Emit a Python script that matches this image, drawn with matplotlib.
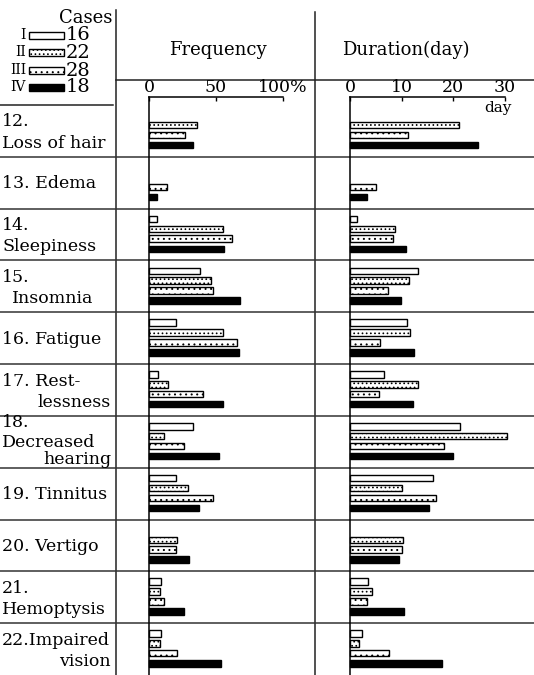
import numpy as np
import matplotlib
matplotlib.use('Agg')
import matplotlib.pyplot as plt
from matplotlib.patches import Rectangle

plt.rcParams['font.family'] = ['DejaVu Serif']
plt.rcParams['hatch.linewidth'] = 0.7

# ============================================================
# Data: symptom rows, 4 case groups (nan = no bar)
# ============================================================
symptoms = [
    ["12.", "Loss of hair"],
    ["13. Edema"],
    ["14.", "Sleepiness"],
    ["15.", "Insomnia"],
    ["16. Fatigue"],
    ["17. Rest-", "lessness"],
    ["18.", "Decreased", "hearing"],
    ["19. Tinnitus"],
    ["20. Vertigo"],
    ["21.", "Hemoptysis"],
    ["22.Impaired", "vision"],
]
groups = ["I", "II", "III", "IV"]
n_cases = [16, 22, 28, 18]

nan = np.nan
# frequency (%) per group
freq_I   = [nan, nan,  6, 38, 20,  7, 33, 20, nan,  9,  9]
freq_II  = [36, nan,  55, 46, 55, 14, 11, 29, 21,  8,  8]
freq_III = [27, 13.5, 62, 48, 66, 40, 26, 48, 20.5, 11, 21]
freq_IV  = [33,  6,   56, 68, 67.5, 55, 52, 37, 30, 26, 54]

# duration (day) per group
dur_I   = [nan, nan, 1.4, 13.2, 11.0, 6.6, 21.3, 16.0, nan, 3.4, 2.3]
dur_II  = [21.0, nan, 8.7, 11.5, 11.7, 13.1, 30.3, 10.0, 10.3, 4.3, 1.8]
dur_III = [11.2, 5.0, 8.4, 7.4, 5.8, 5.6, 18.2, 16.6, 10.0, 3.2, 7.5]
dur_IV  = [24.7, 3.2, 10.8, 9.8, 12.4, 12.2, 20.0, 15.3, 9.5, 10.5, 17.8]

freq = [freq_I, freq_II, freq_III, freq_IV]
dur = [dur_I, dur_II, dur_III, dur_IV]

# ============================================================
# Layout (pixels)
# ============================================================
W, H = 534, 675
row_top = 105
n_rows = len(symptoms)
row_h = (H - row_top) / n_rows
axis_y = 97
pad_rows = (row_top - axis_y) / row_h

styles = [
    dict(facecolor='white', hatch=None),
    dict(facecolor='white', hatch='....'),
    dict(facecolor='white', hatch='...'),
    dict(facecolor='black', hatch=None),
]
offsets = [0.20, 0.39, 0.58, 0.775]
bar_h = 0.125

fig = plt.figure(figsize=(W / 100, H / 100), dpi=100)

# background: frame lines, row labels, legend
bg = fig.add_axes([0, 0, 1, 1])
bg.set_xlim(0, W)
bg.set_ylim(H, 0)
bg.axis('off')

line_kw = dict(color='#222222', lw=1.1)
bg.plot([116, 116], [10, H], **line_kw)
bg.plot([315, 315], [12, H], **line_kw)
bg.plot([116, W], [80, 80], **line_kw)
bg.plot([0, 113], [row_top, row_top], **line_kw)
for i in range(1, n_rows):
    y = row_top + i * row_h
    bg.plot([0, W], [y, y], color='#333333', lw=1.1)

label_fs = 12.5
flush_right = {"lessness", "hearing", "vision"}
line_offsets = {1: [27], 2: [17, 38], 3: [7, 27, 44]}
for i, lines in enumerate(symptoms):
    top = row_top + i * row_h
    for dy, txt in zip(line_offsets[len(lines)], lines):
        if txt in flush_right:
            bg.text(111, top + dy, txt, ha='right', va='center', fontsize=label_fs)
        else:
            x = 12 if txt == "Insomnia" else 2
            bg.text(x, top + dy, txt, ha='left', va='center', fontsize=label_fs)

# legend
bg.text(112, 18, "Cases", ha='right', va='center', fontsize=13)
leg_y = [35, 52, 70, 87]
for k in range(4):
    st = styles[k]
    bg.add_patch(Rectangle((29, leg_y[k] - 3.5), 35, 7, facecolor=st['facecolor'],
                           hatch=st['hatch'], edgecolor='black', lw=1.0))
    bg.text(26, leg_y[k], groups[k], ha='right', va='center', fontsize=10)
    bg.text(66, leg_y[k] + 0.5, str(n_cases[k]), ha='left', va='center', fontsize=14)

bg.text(218, 50, "Frequency", ha='center', va='center', fontsize=13)
bg.text(406, 50, "Duration(day)", ha='center', va='center', fontsize=13)
bg.text(498, 108, "day", ha='center', va='center', fontsize=11)


def panel(x0, x1, xmax, values, ticks, ticklabels):
    ax = fig.add_axes([x0 / W, 0, (x1 - x0) / W, (H - axis_y) / H])
    ax.patch.set_alpha(0)
    ax.set_xlim(0, xmax)
    ax.set_ylim(n_rows, -pad_rows)
    for side in ['right', 'bottom']:
        ax.spines[side].set_visible(False)
    ax.spines['top'].set_linewidth(1.1)
    ax.spines['left'].set_linewidth(1.1)
    ax.xaxis.tick_top()
    ax.set_xticks(ticks)
    ax.set_xticklabels(ticklabels, fontsize=12.5)
    ax.tick_params(axis='x', direction='in', length=3, width=1, pad=1)
    ax.set_yticks([])
    rows = np.arange(n_rows)
    for k in range(4):
        vals = np.array(values[k], dtype=float)
        ok = ~np.isnan(vals)
        ax.barh(rows[ok] + offsets[k], vals[ok], height=bar_h, left=0,
                color=styles[k]['facecolor'], hatch=styles[k]['hatch'],
                edgecolor='black', linewidth=1.0, clip_on=False)
    return ax


ax_f = panel(149, 283, 100, freq, [0, 50, 100], ['0', '50', '100%'])
ax_d = panel(350, 505, 30, dur, [0, 10, 20, 30], ['0', '10', '20', '30'])

plt.savefig('out.png', dpi=100)
